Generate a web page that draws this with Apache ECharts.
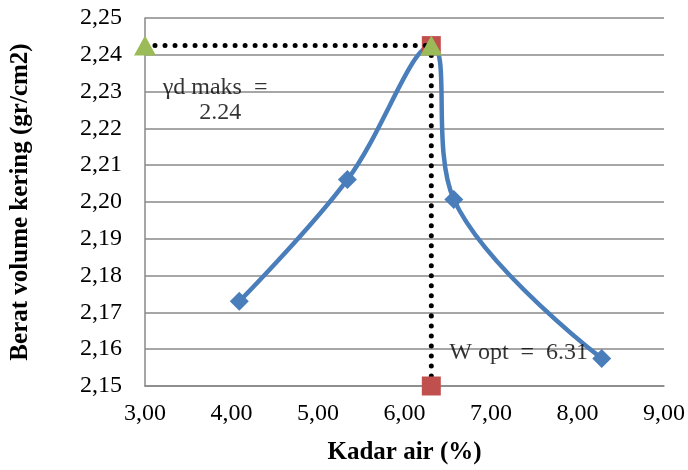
<!DOCTYPE html>
<html>
<head>
<meta charset="utf-8">
<script src="https://cdn.jsdelivr.net/npm/echarts@6/dist/echarts.min.js"></script>
<style>html,body{margin:0;padding:0;background:#fff}#c{width:688px;height:470px}</style>
</head>
<body>
<div id="c"></div>
<script>
// Data
const kadarAir = [4.09, 5.34, 6.31, 6.57, 8.28];
const beratVolume = [2.1730, 2.2061, 2.2425, 2.2007, 2.1575];
const wOpt = 6.31;
const gdMaks = 2.2425;
const xStart = 3.0;
const yBase = 2.15;
const xTicks = [3, 4, 5, 6, 7, 8, 9];
const yTicks = [2.15, 2.16, 2.17, 2.18, 2.19, 2.20, 2.21, 2.22, 2.23, 2.24, 2.25];
const annoText = ['γd maks  =', '2.24', 'W opt  =  6.31'];
const annoPos = [[3.81, 2.2310], [3.87, 2.2242], [7.32, 2.1590]];

const FONT = '"Liberation Serif", "Times New Roman", serif';
const chart = echarts.init(document.getElementById('c'), null, {renderer: 'canvas'});
const comma = v => Number(v).toFixed(2).replace('.', ',');

chart.setOption({
  animation: false,
  backgroundColor: '#fff',
  grid: {left: 135, right: 24, top: 18, bottom: 83, containLabel: false},
  xAxis: {
    type: 'value', min: xTicks[0], max: xTicks[xTicks.length - 1], interval: 1,
    name: 'Kadar air (%)', nameLocation: 'middle', nameGap: 54,
    nameTextStyle: {fontFamily: FONT, fontWeight: 'bold', fontSize: 25, color: '#000'},
    axisLine: {show: true, lineStyle: {color: '#888', width: 1.5}},
    axisTick: {show: false},
    splitLine: {show: false},
    axisLabel: {formatter: comma, fontFamily: FONT, fontSize: 24, color: '#000', margin: 16}
  },
  yAxis: {
    type: 'value', min: yTicks[0], max: yTicks[yTicks.length - 1], interval: 0.01,
    name: 'Berat volume kering (gr/cm2)', nameLocation: 'middle', nameGap: 112,
    nameTextStyle: {fontFamily: FONT, fontWeight: 'bold', fontSize: 25, color: '#000'},
    axisLine: {show: true, lineStyle: {color: '#888', width: 1.5}},
    axisTick: {show: false},
    splitLine: {show: true, lineStyle: {color: '#888', width: 1.5}},
    axisLabel: {formatter: comma, fontFamily: FONT, fontSize: 24, color: '#000', margin: 23}
  },
  series: [
    {
      type: 'line', smooth: 0.38, z: 3,
      data: kadarAir.map((x, i) => ({value: [x, beratVolume[i]], symbolSize: i === 2 ? 0 : 19})),
      symbol: 'diamond', showAllSymbol: true,
      lineStyle: {color: '#4a7ebb', width: 4.5},
      itemStyle: {color: '#4a7ebb'}
    },
    {
      type: 'line', z: 4, clip: false,
      data: [[wOpt, gdMaks], [wOpt, yBase]],
      symbol: 'rect', symbolSize: 19,
      lineStyle: {color: '#000', width: 5, type: [0.01, 10], cap: 'round'},
      itemStyle: {color: '#c0504d'}
    },
    {
      type: 'line', z: 5, clip: false,
      data: [[xStart, gdMaks], [wOpt, gdMaks]],
      symbol: 'triangle', symbolSize: [22, 20],
      lineStyle: {color: '#000', width: 5, type: [0.01, 10], cap: 'round'},
      itemStyle: {color: '#9bbb59'}
    },
    {
      type: 'scatter', z: 6, symbolSize: 0, silent: true,
      data: annoPos.map((p, i) => ({value: p, name: annoText[i]})),
      label: {show: true, position: 'inside', formatter: p => p.name,
        fontFamily: FONT, fontSize: 24, color: '#000'}
    }
  ]
});
</script>
</body>
</html>
